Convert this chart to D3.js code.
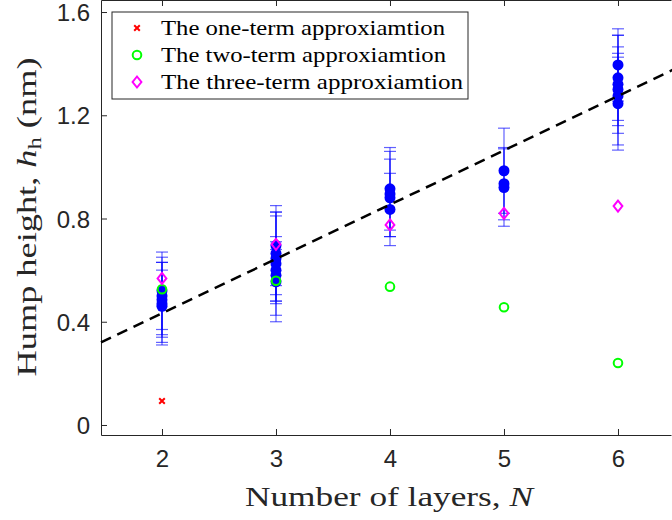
<!DOCTYPE html>
<html><head><meta charset="utf-8">
<script src="https://cdn.jsdelivr.net/npm/d3@7"></script>
<style>body{margin:0;background:#fff} svg{display:block}</style>
</head><body><svg id="c" width="672" height="520"></svg>
<script>
// ---- data ----
const xTicks = [2, 3, 4, 5, 6];
const yTicks = [0, 0.4, 0.8, 1.2, 1.6];
const yTickLabels = ["0", "0.4", "0.8", "1.2", "1.6"];
const measuredN   = [2,2,2,2,2, 3,3,3,3,3,3,3, 4,4,4,4, 5,5,5, 6,6,6,6,6,6];
const measuredH   = [0.52,0.50,0.485,0.47,0.46, 0.695,0.665,0.645,0.625,0.60,0.58,0.555, 0.915,0.895,0.88,0.835, 0.985,0.935,0.92, 1.395,1.345,1.32,1.30,1.275,1.245];
const measuredErr = [0.15,0.15,0.145,0.16,0.14, 0.155,0.16,0.165,0.2,0.13,0.10,0.155, 0.16,0.165,0.15,0.14, 0.165,0.14,0.15, 0.14,0.165,0.19,0.14,0.19,0.18];
const oneTermN = [2];
const oneTermH = [0.093];
const twoTermN = [2, 3, 4, 5, 6];
const twoTermH = [0.526, 0.559, 0.536, 0.456, 0.24];
const threeTermN = [2, 3, 4, 5, 6];
const threeTermH = [0.568, 0.70, 0.775, 0.82, 0.848];
const fitN = [1.465, 6.5];
const fitH = [0.32, 1.38];
const legendLabels = ["The one-term approxiamtion", "The two-term approxiamtion", "The three-term approxiamtion"];

// ---- layout ----
const svg = d3.select("#c");
const L = 101, R = 671, T = 0, B = 435;
const x = d3.scaleLinear().domain([1.465, 6.465]).range([L, R]);
const y = d3.scaleLinear().domain([-0.0388, 1.6466]).range([B, T]);
const axisCol = "#262626";
const sans = "'Liberation Sans', Arial, Helvetica, sans-serif";
const serif = "'Liberation Serif', 'DejaVu Serif', serif";

// axes (box)
const gx = svg.append("g").attr("transform", `translate(0,${B})`)
  .call(d3.axisBottom(x).tickValues(xTicks).tickSizeInner(-6).tickSizeOuter(0).tickPadding(15).tickFormat(d3.format("d")));
const gxt = svg.append("g").attr("transform", `translate(0,${T})`)
  .call(d3.axisTop(x).tickValues(xTicks).tickSizeInner(-6).tickSizeOuter(0).tickFormat(""));
const gy = svg.append("g").attr("transform", `translate(${L},0)`)
  .call(d3.axisLeft(y).tickValues(yTicks).tickSizeInner(-6).tickSizeOuter(0).tickPadding(11).tickFormat((d,i)=>yTickLabels[i]));
[gx, gxt, gy].forEach(g => {
  g.select(".domain").attr("stroke", axisCol).attr("stroke-width", 1);
  g.selectAll(".tick line").attr("stroke", axisCol).attr("stroke-width", 1);
  g.selectAll(".tick text").attr("fill", axisCol).attr("font-family", sans).attr("font-size", 24);
});
gx.selectAll(".tick text").attr("dy", "0.71em");
gy.selectAll(".tick text").attr("dy", "0.36em");

// error bars
const eb = svg.append("g").attr("stroke", "#0000ff").attr("stroke-opacity", 0.62).attr("stroke-width", 1.2).attr("fill", "none");
measuredH.forEach((h, i) => {
  const cx = x(measuredN[i]), lo = y(h - measuredErr[i]), hi = y(h + measuredErr[i]);
  eb.append("line").attr("x1", cx).attr("x2", cx).attr("y1", lo).attr("y2", hi);
  eb.append("line").attr("x1", cx - 6).attr("x2", cx + 6).attr("y1", lo).attr("y2", lo);
  eb.append("line").attr("x1", cx - 6).attr("x2", cx + 6).attr("y1", hi).attr("y2", hi);
});
// measured dots
svg.append("g").selectAll("circle").data(measuredH).join("circle")
  .attr("cx", (d, i) => x(measuredN[i])).attr("cy", d => y(d)).attr("r", 5.5).attr("fill", "#0000ff");

// fit line
svg.append("line").attr("x1", x(fitN[0])).attr("y1", y(fitH[0])).attr("x2", x(fitN[1])).attr("y2", y(fitH[1]))
  .attr("stroke", "#000").attr("stroke-width", 2.5).attr("stroke-dasharray", "11,7");

// markers
function cross(g, cx, cy, s) {
  g.append("path").attr("d", `M${cx-s},${cy-s}L${cx+s},${cy+s}M${cx-s},${cy+s}L${cx+s},${cy-s}`)
    .attr("stroke", "#ff0000").attr("stroke-width", 2).attr("fill", "none");
}
function ring(g, cx, cy) {
  g.append("circle").attr("cx", cx).attr("cy", cy).attr("r", 4.3).attr("fill", "none").attr("stroke", "#00ff00").attr("stroke-width", 2);
}
function diamond(g, cx, cy) {
  const s = 5.5;
  g.append("path").attr("d", `M${cx},${cy-s}L${cx+s*0.8},${cy}L${cx},${cy+s}L${cx-s*0.8},${cy}Z`)
    .attr("fill", "none").attr("stroke", "#ff00ff").attr("stroke-width", 2);
}
const mk = svg.append("g");
oneTermH.forEach((h, i) => cross(mk, x(oneTermN[i]), y(h), 2.8));
twoTermH.forEach((h, i) => ring(mk, x(twoTermN[i]), y(h)));
threeTermH.forEach((h, i) => diamond(mk, x(threeTermN[i]), y(h)));

// legend
const lg = svg.append("g");
lg.append("rect").attr("x", 112).attr("y", 12).attr("width", 356).attr("height", 87)
  .attr("fill", "#fff").attr("stroke", axisCol).attr("stroke-width", 1);
const rowsY = [28, 55, 82];
cross(lg, 137, rowsY[0], 2.8);
ring(lg, 137, rowsY[1]);
diamond(lg, 137, rowsY[2]);
const legW = [284, 285, 302];
legendLabels.forEach((t, i) => {
  lg.append("text").attr("x", 161).attr("y", rowsY[i] + 7).attr("font-family", serif).attr("font-size", 22)
    .attr("fill", "#000").attr("textLength", legW[i]).attr("lengthAdjust", "spacingAndGlyphs").text(t);
});

// axis labels
const xl = svg.append("text").attr("x", 389).attr("y", 506).attr("text-anchor", "middle")
  .attr("font-family", serif).attr("font-size", 28).attr("fill", axisCol)
  .attr("textLength", 288).attr("lengthAdjust", "spacingAndGlyphs");
xl.append("tspan").text("Number of layers, ");
xl.append("tspan").attr("font-style", "italic").text("N");

const yl = svg.append("text").attr("transform", "translate(36,217) rotate(-90)").attr("text-anchor", "middle")
  .attr("font-family", serif).attr("font-size", 28).attr("fill", axisCol)
  .attr("textLength", 319).attr("lengthAdjust", "spacingAndGlyphs");
yl.append("tspan").text("Hump height, ");
yl.append("tspan").attr("font-style", "italic").text("h");
yl.append("tspan").attr("font-size", 19).attr("dy", 5).text("h");
yl.append("tspan").attr("dy", -5).text(" (nm)");
</script></body></html>
